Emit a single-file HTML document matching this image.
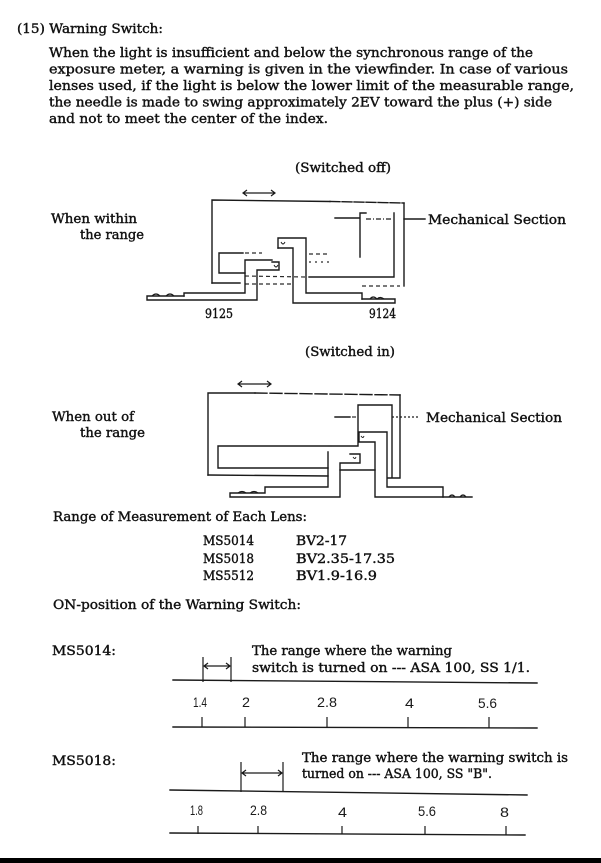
<!DOCTYPE html>
<html>
<head>
<meta charset="utf-8">
<style>
  html,body{margin:0;padding:0;background:#fff;}
  svg{display:block;}
  .t{font-family:"DejaVu Serif","Liberation Serif",serif;font-size:12.8px;fill:#111;stroke:#111;stroke-width:0.4;}
  .h{font-family:"Liberation Sans","DejaVu Sans",sans-serif;font-size:14px;fill:#1a1a1a;}
  .l{fill:none;stroke:#1a1a1a;stroke-width:1.4;stroke-linecap:square;}
  .d{fill:none;stroke:#2a2a2a;stroke-width:1.2;stroke-dasharray:4 3;}
  .s{fill:none;stroke:#1a1a1a;stroke-width:1.2;}
</style>
</head>
<body>
<svg width="601" height="863" viewBox="0 0 601 863" xmlns="http://www.w3.org/2000/svg">
<rect x="0" y="0" width="601" height="863" fill="#fff"/>

<!-- Header & paragraph -->
<text class="t" x="17" y="33" textLength="146" lengthAdjust="spacingAndGlyphs">(15) Warning Switch:</text>
<text class="t" x="49" y="57" textLength="484" lengthAdjust="spacingAndGlyphs">When the light is insufficient and below the synchronous range of the</text>
<text class="t" x="49" y="73.5" textLength="519" lengthAdjust="spacingAndGlyphs">exposure meter, a warning is given in the viewfinder.  In case of various</text>
<text class="t" x="49" y="90" textLength="525" lengthAdjust="spacingAndGlyphs">lenses used, if the light is below the lower limit of the measurable range,</text>
<text class="t" x="49" y="106.5" textLength="503" lengthAdjust="spacingAndGlyphs">the needle is made to swing approximately 2EV toward the plus (+) side</text>
<text class="t" x="49" y="123" textLength="279" lengthAdjust="spacingAndGlyphs">and not to meet the center of the index.</text>

<!-- Diagram 1 -->
<text class="t" x="295" y="172" textLength="96" lengthAdjust="spacingAndGlyphs">(Switched off)</text>
<text class="t" x="51" y="223" textLength="86" lengthAdjust="spacingAndGlyphs">When within</text>
<text class="t" x="80" y="239" textLength="64" lengthAdjust="spacingAndGlyphs">the range</text>
<text class="t" x="428" y="224" textLength="138" lengthAdjust="spacingAndGlyphs">Mechanical Section</text>
<text class="t" x="205" y="318" textLength="28" lengthAdjust="spacingAndGlyphs">9125</text>
<text class="t" x="369" y="318" textLength="27" lengthAdjust="spacingAndGlyphs">9124</text>

<!-- arrow -->
<path class="s" d="M243,193 L275,193 M247,190 L243,193 L247,196 M271,190 L275,193 L271,196"/>
<!-- outer frame -->
<path class="l" d="M212,283 L212,200 L330,201.5"/>
<path class="l" d="M330,201.5 L404,203" style="stroke-dasharray:10 2"/>
<path class="l" d="M404,203 L404,286"/>
<path class="l" d="M212,283 L240,283"/>
<path class="d" d="M245,284 L292,284"/>
<path class="d" d="M362,286 L400,286"/>
<!-- inner left rect -->
<path class="l" d="M243,253 L219,253 L219,273 L245,273"/>
<path class="d" d="M245,253 L262,253"/>
<path class="d" d="M245,276 L305,277"/>
<!-- left lever 9125 -->
<path class="l" d="M184,296 L184,293 L245,293 L245,260 L272,260"/>
<path class="l" d="M272,262 L279,262 L279,270 L257,270 L257,300 L147,300 L147,296 L184,296"/>
<path class="s" d="M152,296 q4,-4 8,0 M166,296 q4,-4 8,0"/>
<path class="s" d="M274,265 q2,4 4,0" style="stroke-width:0.9"/>
<!-- middle lever 9124 -->
<path class="l" d="M278,248 L278,238 L306,238 L306,293 L362,293 L362,299"/>
<path class="l" d="M278,248 L293,248 L293,303 L395,303 L395,299 L362,299"/>
<path class="s" d="M370,299 q3,-4 7,0 q3,-3 7,0"/>
<path class="s" d="M281,242 q2,4 4,0" style="stroke-width:0.9"/>
<!-- mechanical section -->
<path class="l" d="M335,218 L360,218 M360,257 L360,213 L366,213"/>
<path class="s" d="M366,219 L392,219" style="stroke-dasharray:5 2 1 2"/>
<path class="l" d="M394,213 L394,277 L309,277"/>
<path class="l" d="M404,219 L425,219"/>
<path class="d" d="M309,254 L330,254"/>
<path class="d" d="M309,262 L330,262" style="stroke-dasharray:2 4"/>

<!-- Diagram 2 -->
<text class="t" x="305" y="356" textLength="90" lengthAdjust="spacingAndGlyphs">(Switched in)</text>
<text class="t" x="52" y="421" textLength="82" lengthAdjust="spacingAndGlyphs">When out of</text>
<text class="t" x="80" y="437" textLength="65" lengthAdjust="spacingAndGlyphs">the range</text>
<text class="t" x="426" y="422" textLength="136" lengthAdjust="spacingAndGlyphs">Mechanical Section</text>

<path class="s" d="M238,384 L271,384 M242,381 L238,384 L242,387 M267,381 L271,384 L267,387"/>
<!-- outer frame -->
<path class="l" d="M208,475 L208,393 L255,393"/>
<path class="l" d="M255,393 L400,395" style="stroke-dasharray:12 3"/>
<path class="l" d="M400,395 L400,478 L388,478"/>
<path class="l" d="M208,475 L328,476"/>
<!-- inner rect + tall shape -->
<path class="l" d="M328,468 L218,468 L218,446 L358,446 L358,405 L392,405 L392,477"/>
<!-- mechanical -->
<path class="l" d="M335,417 L350,417"/>
<path class="d" d="M352,417 L358,417"/>
<path class="s" d="M392,417 L418,417" style="stroke-dasharray:2 2"/>
<!-- inner lever (9124 side) -->
<path class="l" d="M365,442 L359,442 L359,432 L387,432 L387,487 L443,487 L443,497 L375,497 L375,442 L365,442"/>
<path class="l" d="M443,497 L472,497"/>
<path class="s" d="M449,497 q3,-4 6,0 M460,497 q3,-4 6,0"/>
<path class="s" d="M361,436 q2,3 3,0" style="stroke-width:0.9"/>
<!-- left lever (9125 side) -->
<path class="l" d="M328,452 L328,487 L265,487 L265,493 L230,493 L230,497 L340,497 L340,463 L360,463 L360,454 L350,454"/>
<path class="s" d="M238,493 q4,-3 8,0 M250,493 q4,-3 8,0"/>
<path class="s" d="M353,457 q2,3 3,0" style="stroke-width:0.9"/>
<path class="l" d="M340,470 L375,470"/>
<path class="d" d="M328,446 L335,446"/>

<!-- Range table -->
<text class="t" x="53" y="521" textLength="254" lengthAdjust="spacingAndGlyphs">Range of Measurement of Each Lens:</text>
<text class="t" x="203" y="545" textLength="51" lengthAdjust="spacingAndGlyphs">MS5014</text>
<text class="t" x="296" y="545" textLength="51" lengthAdjust="spacingAndGlyphs">BV2-17</text>
<text class="t" x="203" y="563" textLength="51" lengthAdjust="spacingAndGlyphs">MS5018</text>
<text class="t" x="296" y="563" textLength="99" lengthAdjust="spacingAndGlyphs">BV2.35-17.35</text>
<text class="t" x="203" y="580" textLength="51" lengthAdjust="spacingAndGlyphs">MS5512</text>
<text class="t" x="296" y="580" textLength="81" lengthAdjust="spacingAndGlyphs">BV1.9-16.9</text>
<text class="t" x="53" y="609" textLength="248" lengthAdjust="spacingAndGlyphs">ON-position of the Warning Switch:</text>

<!-- MS5014 scale -->
<text class="t" x="52" y="655" textLength="64" lengthAdjust="spacingAndGlyphs">MS5014:</text>
<text class="t" x="252" y="655" textLength="200" lengthAdjust="spacingAndGlyphs">The range where the warning</text>
<text class="t" x="252" y="672" textLength="278" lengthAdjust="spacingAndGlyphs">switch is turned on --- ASA 100, SS 1/1.</text>
<path class="s" d="M203,657 L203,682 M231,657 L231,682"/>
<path class="s" d="M204,666 L230,666 M208,663 L204,666 L208,669 M226,663 L230,666 L226,669"/>
<path class="l" d="M173,680 L537,683"/>
<text class="h" x="193" y="707" textLength="14" lengthAdjust="spacingAndGlyphs">1.4</text>
<text class="h" x="242" y="707" textLength="8" lengthAdjust="spacingAndGlyphs">2</text>
<text class="h" x="317" y="707" textLength="20" lengthAdjust="spacingAndGlyphs">2.8</text>
<text class="h" x="405" y="708" textLength="9" lengthAdjust="spacingAndGlyphs">4</text>
<text class="h" x="478" y="708" textLength="19" lengthAdjust="spacingAndGlyphs">5.6</text>
<path class="l" d="M173,727 L537,728"/>
<path class="s" d="M202,717 L202,727 M245,717 L245,727 M327,717 L327,727 M408,717 L408,727 M489,717 L489,728"/>

<!-- MS5018 scale -->
<text class="t" x="52" y="765" textLength="64" lengthAdjust="spacingAndGlyphs">MS5018:</text>
<text class="t" x="302" y="762" textLength="266" lengthAdjust="spacingAndGlyphs">The range where the warning switch is</text>
<text class="t" x="302" y="778" textLength="190" lengthAdjust="spacingAndGlyphs">turned on --- ASA 100, SS "B".</text>
<path class="s" d="M241,762 L241,792 M283,762 L283,792"/>
<path class="s" d="M242,773 L282,773 M246,770 L242,773 L246,776 M278,770 L282,773 L278,776"/>
<path class="l" d="M170,790 L527,795"/>
<text class="h" x="190" y="815" textLength="13" lengthAdjust="spacingAndGlyphs">1.8</text>
<text class="h" x="250" y="815" textLength="17" lengthAdjust="spacingAndGlyphs">2.8</text>
<text class="h" x="338" y="817" textLength="9" lengthAdjust="spacingAndGlyphs">4</text>
<text class="h" x="418" y="816" textLength="18" lengthAdjust="spacingAndGlyphs">5.6</text>
<text class="h" x="500" y="817" textLength="9" lengthAdjust="spacingAndGlyphs">8</text>
<path class="l" d="M170,833 L525,835"/>
<path class="s" d="M198,826 L198,834 M258,826 L258,834 M342,826 L342,834 M425,826 L425,835 M506,826 L506,835"/>

<!-- bottom black band -->
<rect x="0" y="858" width="601" height="5" fill="#000"/>
</svg>
</body>
</html>
